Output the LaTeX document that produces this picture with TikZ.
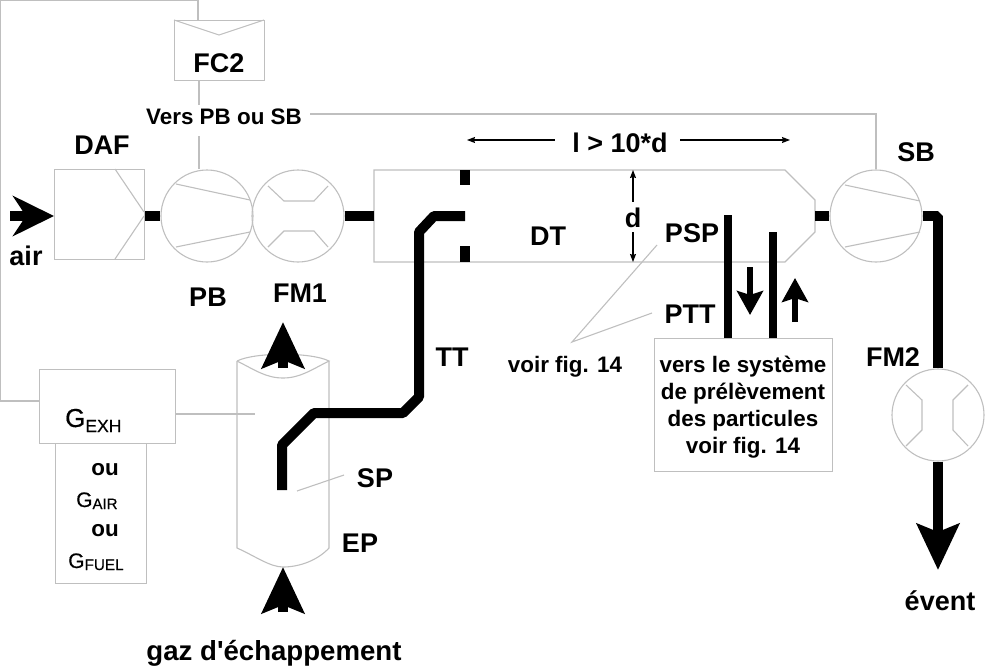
\documentclass[tikz,border=0pt]{standalone}
\usepackage{fontspec}
\setmainfont[Ligatures=TeXOff]{Liberation Sans}
\newfontfamily\gasfont[FakeBold=0.5]{Liberation Sans}
\usetikzlibrary{arrows.meta,calc}
\tikzset{
  thin line/.style={draw=black!25,line width=1.1pt,line join=miter},
  unit/.style={thin line,rectangle,inner sep=0pt,anchor=north west},
  rotor/.style={thin line,circle,inner sep=0pt,minimum size=92pt},
  pipe/.style={line width=10pt,black,line join=bevel},
  probe/.style={line width=7.5pt,black},
  flowtip/.style={-{Stealth[length=46pt,width=42pt,inset=8pt]}},
  smalltip/.style={-{Stealth[length=24pt,width=26pt,inset=4pt]},line width=5.5pt,black},
  dimline/.style={line width=1.1pt,black},
  dimtip/.style={{Stealth[length=8pt,width=6pt,inset=1pt]}-},
  lab/.style={inner sep=0pt,font=\bfseries\fontsize{27}{27}\selectfont},
  mid/.style={inner sep=0pt,font=\bfseries\fontsize{22.4}{26}\selectfont,align=center},
  gas/.style={inner sep=0pt,anchor=base west},
}
\newcommand{\gname}[4]{{\gasfont\fontsize{#1}{#1}\selectfont G\raisebox{-#4pt}{\fontsize{#2}{#2}\selectfont #3}}}
\begin{document}
\begin{tikzpicture}[x=1pt,y=-1pt]
\useasboundingbox (0,0) rectangle (988,672);

% Main units
\node[unit,minimum width=90pt,minimum height=90pt] (daf) at (54,169) {};
\node[unit,minimum width=90pt,minimum height=60pt] (fc) at (174,20) {};
\node[rotor] (pb) at (207,216) {};
\node[rotor] (fma) at (298,216) {};
\node[rotor] (sb) at (876,216) {};
\node[rotor] (fmb) at (938,415) {};
\node[unit,minimum width=136pt,minimum height=74pt] (gexh) at (39,369) {};
\node[unit,minimum width=91pt,minimum height=140pt] (galt) at (55,443) {};
\node[unit,minimum width=178pt,minimum height=133pt] (sys) at (654,338) {};

% Filter cone, controller chevron
\draw[thin line] (115,169) -- (144,212) (144,216) -- (115,259);
\draw[thin line] (174,20) -- (219,35) -- (264,20);

% Blower blades
\draw[thin line] (176,184) -- (250,200) (176,247) -- (250,232);
\draw[thin line] (845,185) -- (920,201) (845,247) -- (920,232);

% Venturi contours of the flow meters
\draw[thin line] (268,186) -- (284,201) -- (314,201) -- (328,186);
\draw[thin line] (268,247) -- (284,231) -- (314,231) -- (328,247);
\draw[thin line] (906,385) -- (922,400) -- (922,430) -- (906,446);
\draw[thin line] (968,385) -- (953,400) -- (953,430) -- (968,446);

% Dilution tunnel
\draw[thin line] (374,170) -- (785,170) -- (815,200)
  -- (815,232) -- (785,262) -- (374,262) -- cycle;
\coordinate (dtl) at (374,216);
\coordinate (dtr) at (815,216);

% Exhaust pipe: top rim, then the body with its rounded base
\draw[thin line] (237,361) .. controls (255,352) and (311,352) .. (329,361)
  .. controls (311,370) and (300,378) .. (283,378)
  .. controls (266,378) and (255,370) .. (237,361);
\draw[thin line] (237,361) -- (237,548)
  .. controls (255,556) and (270,567) .. (283,567)
  .. controls (300,567) and (318,560) .. (329,548) -- (329,361);

% Orifice plate
\draw[line width=10pt] (465,170) -- (465,185) (465,246) -- (465,262);

% Control and signal lines
\coordinate (railtop) at (198,0.6);
\coordinate (railcorner) at (0.6,0.6);
\coordinate (railleft) at (0.6,401);
\draw[thin line] (fc.north -| railtop) -- (railtop) -- (railcorner) -- (railleft) -- (gexh.west |- railleft);
\coordinate (fcdrop) at (199,105);
\coordinate (pbrise) at (199,136);
\draw[thin line] (fc.south -| fcdrop) -- (fcdrop);
\draw[thin line] (pbrise) -- (pbrise |- pb.north);
\coordinate (sbline) at (310,114);
\draw[thin line] (sbline) -- (sbline -| sb) -- (sb.north);
\coordinate (eptap) at (255,414);
\draw[thin line] (gexh.east |- eptap) -- (eptap);

% Air path
\draw[pipe] (daf.east |- pb.west) -- (pb.west);
\draw[pipe] (fma.east) -- (dtl);
\draw[pipe] (dtr) -- (sb.west);
\coordinate (airstart) at (10,216);
\draw[pipe,-{Stealth[length=41pt,width=40pt,inset=13pt]}] (airstart) -- (daf.west |- airstart);

% Transfer tube
\coordinate (ttend) at (465,216);
\coordinate (tta) at (434,216);
\coordinate (ttb) at (419,232);
\coordinate (ttc) at (419,397);
\coordinate (ttd) at (403,413);
\coordinate (tte) at (314,413);
\coordinate (ttf) at (282,445);
\coordinate (ttg) at (282,490);
\draw[pipe] (ttend) -- (tta) -- (ttb) -- (ttc) -- (ttd) -- (tte) -- (ttf) -- (ttg);

% Outlet to the second flow meter and vent
\coordinate (outcorner) at (938,216);
\draw[pipe] (sb.east) -- (outcorner) -- (fmb.north);
\coordinate (ventend) at (938,570);
\draw[pipe,flowtip] (fmb.south) -- (ventend);

% Exhaust arrows
\coordinate (exin) at (283,612);
\coordinate (exintip) at (283,567);
\draw[pipe,flowtip] (exin) -- (exintip);
\coordinate (exout) at (283,368);
\coordinate (exouttip) at (283,322);
\draw[pipe,flowtip] (exout) -- (exouttip);

% Particle sampling probes
\coordinate (pspend) at (728,215);
\coordinate (pttend) at (773,232);
\draw[probe] (sys.north -| pspend) -- (pspend);
\draw[probe] (sys.north -| pttend) -- (pttend);
\coordinate (downa) at (750,267);
\coordinate (downb) at (750,315);
\draw[smalltip] (downa) -- (downb);
\coordinate (upa) at (795,322);
\coordinate (upb) at (795,278);
\draw[smalltip] (upa) -- (upb);

% Labels
\node[lab] (tfc) at (219,63) {FC2};
\node[mid] (tvers) at (224,117) {Vers PB ou SB};
\node[lab] (tdaf) at (102,145) {DAF};
\node[lab] (tair) at (26,256) {air};
\node[lab] (tpb) at (208,297) {PB};
\node[lab] (tfma) at (300,293) {FM1};
\node[lab] (tl) at (620,143) {l > 10*d};
\node[lab] (tdt) at (548,236) {DT};
\node[lab] (td) at (633,218) {d};
\node[lab] (tpsp) at (692,233) {PSP};
\node[lab] (tptt) at (690,314) {PTT};
\node[lab] (ttt) at (452,357) {TT};
\node[mid] (tvoir) at (565,367) {voir fig. 14};
\node[mid,font=\bfseries\fontsize{22.4}{27}\selectfont] (tsys) at (743,407) {vers le système\\de prélèvement\\des particules\\voir fig. 14};
\node[lab] (tsb) at (916,152) {SB};
\node[lab] (tfmb) at (893,357) {FM2};
\node[lab] (tevent) at (940,601) {évent};
\node[lab] (tsp) at (375,478) {SP};
\node[lab] (tep) at (360,543) {EP};
\node[lab,font=\bfseries\fontsize{27.6}{28}\selectfont] (tgaz) at (274,653) {gaz d'échappement};
\node[gas] (tgexh) at (65,427) {\gname{26}{17.5}{EXH}{5}};
\node[mid] (tou) at (105,470) {ou};
\node[gas] (tgair) at (76,507) {\gname{21}{15}{AIR}{2}};
\node[mid] (tou2) at (105,531) {ou};
\node[gas] (tgfuel) at (68,568) {\gname{21}{15.3}{FUEL}{2}};

% Length and diameter dimensions
\coordinate (lleft) at (467,140);
\coordinate (lright) at (790,140);
\coordinate (lstopa) at (555,140);
\coordinate (lstopb) at (680,140);
\draw[dimline,dimtip] (lleft) -- (lstopa);
\draw[dimline,dimtip] (lright) -- (lstopb);
\coordinate (dtop) at (633,170);
\coordinate (dbot) at (633,262);
\coordinate (dstopa) at (633,202);
\coordinate (dstopb) at (633,232);
\draw[dimline,dimtip] (dtop) -- (dstopa);
\draw[dimline,dimtip] (dbot) -- (dstopb);

% Reference leaders
\coordinate (apex) at (572,342);
\coordinate (leadpsp) at (657,245);
\coordinate (leadptt) at (652,313);
\draw[thin line] (leadpsp) -- (apex) -- (leadptt);
\coordinate (spa) at (297,491);
\coordinate (spb) at (344,475);
\draw[thin line] (spa) -- (spb);
\end{tikzpicture}
\end{document}
